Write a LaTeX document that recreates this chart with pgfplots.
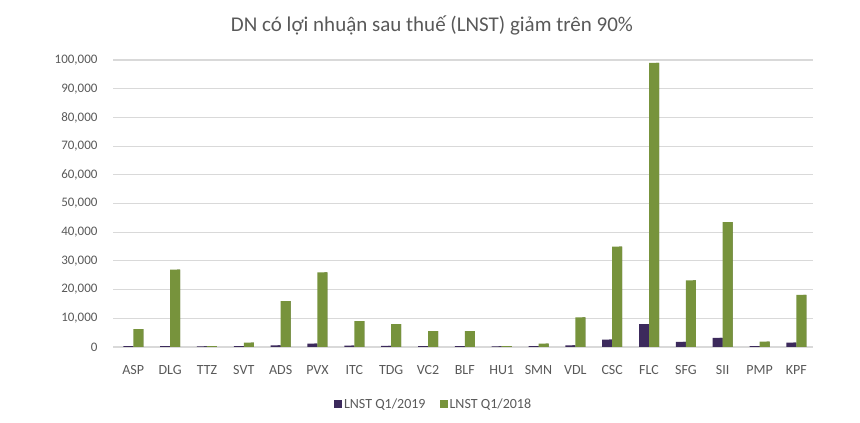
\documentclass[border=0pt]{standalone}
\usepackage{pgfplots}
\pgfplotsset{compat=1.18}
\usepackage{pgfplotstable}
\usepackage{fontspec}
\setmainfont{Carlito}
\definecolor{txt}{HTML}{595959}
\definecolor{grd}{HTML}{D9D9D9}
\definecolor{pur}{HTML}{3C2A5C}
\definecolor{purd}{HTML}{241838}
\definecolor{grn}{HTML}{77933C}
\definecolor{grnd}{HTML}{4F6228}
\pgfplotstableread{
x name a b
0 ASP 300 6200
1 DLG 300 27000
2 TTZ 200 300
3 SVT 300 1500
4 ADS 600 16000
5 PVX 1200 26000
6 ITC 500 9000
7 TDG 400 8000
8 VC2 300 5500
9 BLF 300 5500
10 HU1 200 300
11 SMN 300 1200
12 VDL 600 10300
13 CSC 2600 35000
14 FLC 8000 99000
15 SFG 1800 23200
16 SII 3200 43500
17 PMP 300 1900
18 KPF 1500 18200
}\data
\begin{document}
\begin{tikzpicture}[x=1pt,y=1pt]
\useasboundingbox (0,0) rectangle (860,423);
\node[font=\fontsize{21}{24}\selectfont, text=txt] at (432,398) {DN có lợi nhuận sau thuế (LNST) giảm trên 90\%};
\begin{axis}[
  at={(113pt,76pt)}, anchor=south west,
  scale only axis, width=700pt, height=287pt,
  xmin=-0.55, xmax=18.45, ymin=0, ymax=100000,
  axis line style={draw=none},
  ymajorgrids, grid style={grd, line width=1.1pt},
  ytick={0,10000,...,100000},
  xtick=data, xticklabels from table={\data}{name},
  major tick length=0pt,
  scaled y ticks=false,
  /pgf/number format/.cd, fixed, 1000 sep={,}, assume math mode=true,
  /pgfplots/.cd,
  yticklabel style={font=\fontsize{13}{15}\selectfont, text=txt, xshift=-12pt},
  xticklabel style={font=\fontsize{14}{16}\selectfont, text=txt, yshift=-15pt},
  ybar=0pt, bar width=10pt,
  legend columns=2,
  legend style={at={(0.458,-0.2)}, anchor=center, draw=none, fill=none,
    font=\fontsize{14}{16}\selectfont, text=txt, /tikz/every even column/.append style={column sep=12pt}},
  legend image code/.code={\fill[#1] (0pt,-4pt) rectangle (8pt,4pt);},
  clip=false,
]
\addplot[fill=purd, draw=none, bar shift=-1.5pt, bar width=3pt, forget plot] table[x=x,y=a]{\data};
\addplot[fill=pur, draw=none, bar shift=-5pt] table[x=x,y=a]{\data};
\addplot[fill=grnd, draw=none, bar shift=8.5pt, bar width=3pt, forget plot] table[x=x,y=b]{\data};
\addplot[fill=grn, draw=none, bar shift=5pt] table[x=x,y=b]{\data};
\legend{LNST Q1/2019, LNST Q1/2018}
\end{axis}
\end{tikzpicture}
\end{document}
